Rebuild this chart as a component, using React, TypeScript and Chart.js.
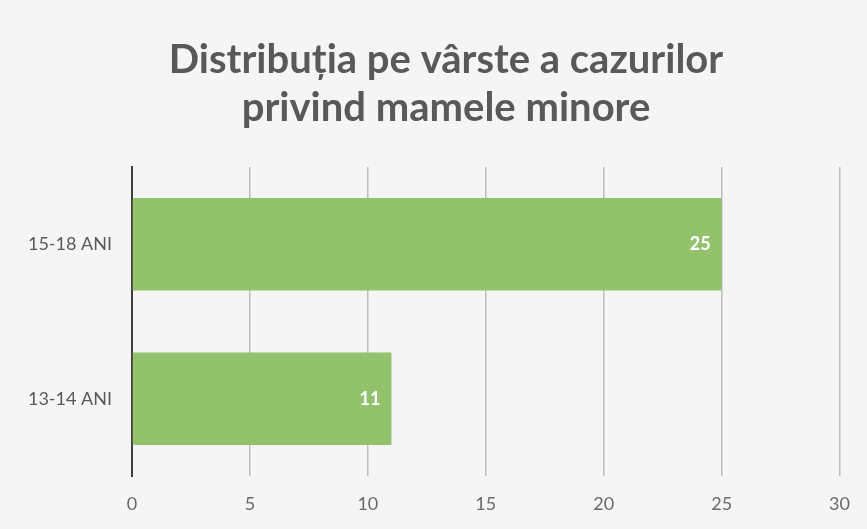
import React, { useEffect, useRef } from "react";
import { Chart, registerables } from "chart.js";

Chart.register(...registerables);

const categories = ["15-18 ANI", "13-14 ANI"];
const values = [25, 11];
const titleLines = ["Distribuția pe vârste a cazurilor", "privind mamele minore"];
const xTicks = [0, 5, 10, 15, 20, 25, 30];

const FONT = "Lato, 'Open Sans', sans-serif";

const bgPlugin = {
  id: "bg",
  beforeDraw(chart: any) {
    const { ctx, width, height } = chart;
    ctx.save();
    ctx.fillStyle = "#f5f5f5";
    ctx.fillRect(0, 0, width, height);
    ctx.restore();
  },
};

const titlePlugin = {
  id: "customTitle",
  afterDraw(chart: any) {
    const { ctx } = chart;
    ctx.save();
    ctx.fillStyle = "#595959";
    ctx.font = `bold 40px ${FONT}`;
    ctx.textAlign = "center";
    ctx.textBaseline = "middle";
    titleLines.forEach((l, i) => ctx.fillText(l, 446, 60 + i * 48));
    ctx.restore();
  },
};

const labelPlugin = {
  id: "barLabels",
  afterDatasetsDraw(chart: any) {
    const { ctx } = chart;
    const meta = chart.getDatasetMeta(0);
    ctx.save();
    ctx.fillStyle = "#ffffff";
    ctx.font = `bold 18px ${FONT}`;
    ctx.textAlign = "right";
    ctx.textBaseline = "middle";
    meta.data.forEach((el: any, i: number) => {
      ctx.fillText(String(values[i]), el.x - 11, el.y);
    });
    ctx.restore();
  },
};

export default function App() {
  const ref = useRef<HTMLCanvasElement>(null);
  useEffect(() => {
    const chart = new Chart(ref.current!, {
      type: "bar",
      data: {
        labels: categories,
        datasets: [
          {
            data: values,
            backgroundColor: "#93c26d",
            borderWidth: 0,
            barPercentage: 0.6,
            categoryPercentage: 1,
          },
        ],
      },
      options: {
        indexAxis: "y",
        animation: false,
        responsive: false,
        layout: { padding: { top: 167, right: 27, left: 0, bottom: 0 } },
        plugins: { legend: { display: false }, tooltip: { enabled: false }, title: { display: false } },
        scales: {
          x: {
            min: 0,
            max: 30,
            afterBuildTicks(scale: any) {
              scale.ticks = xTicks.map((v) => ({ value: v }));
            },
            afterFit(scale: any) {
              scale.height = 53;
            },
            grid: {
              drawTicks: false,
              color: (c: any) => (c.tick && c.tick.value === 0 ? "rgba(0,0,0,0)" : "#bdbdbd"),
              lineWidth: 1.5,
            },
            border: { display: false },
            ticks: { color: "#6a6a6a", font: { family: FONT, size: 18 }, padding: 17 },
          },
          y: {
            afterFit(scale: any) {
              scale.width = 132;
            },
            grid: { display: false, drawTicks: false },
            border: { display: true, color: "#404040", width: 2 },
            ticks: { color: "#595959", font: { family: FONT, size: 18 }, padding: 20 },
          },
        },
      },
      plugins: [bgPlugin, titlePlugin, labelPlugin],
    });
    return () => chart.destroy();
  }, []);
  return (
    <div style={{ position: "fixed", left: 0, top: 0, width: 867, height: 529 }}>
      <canvas ref={ref} width={867} height={529} />
    </div>
  );
}
